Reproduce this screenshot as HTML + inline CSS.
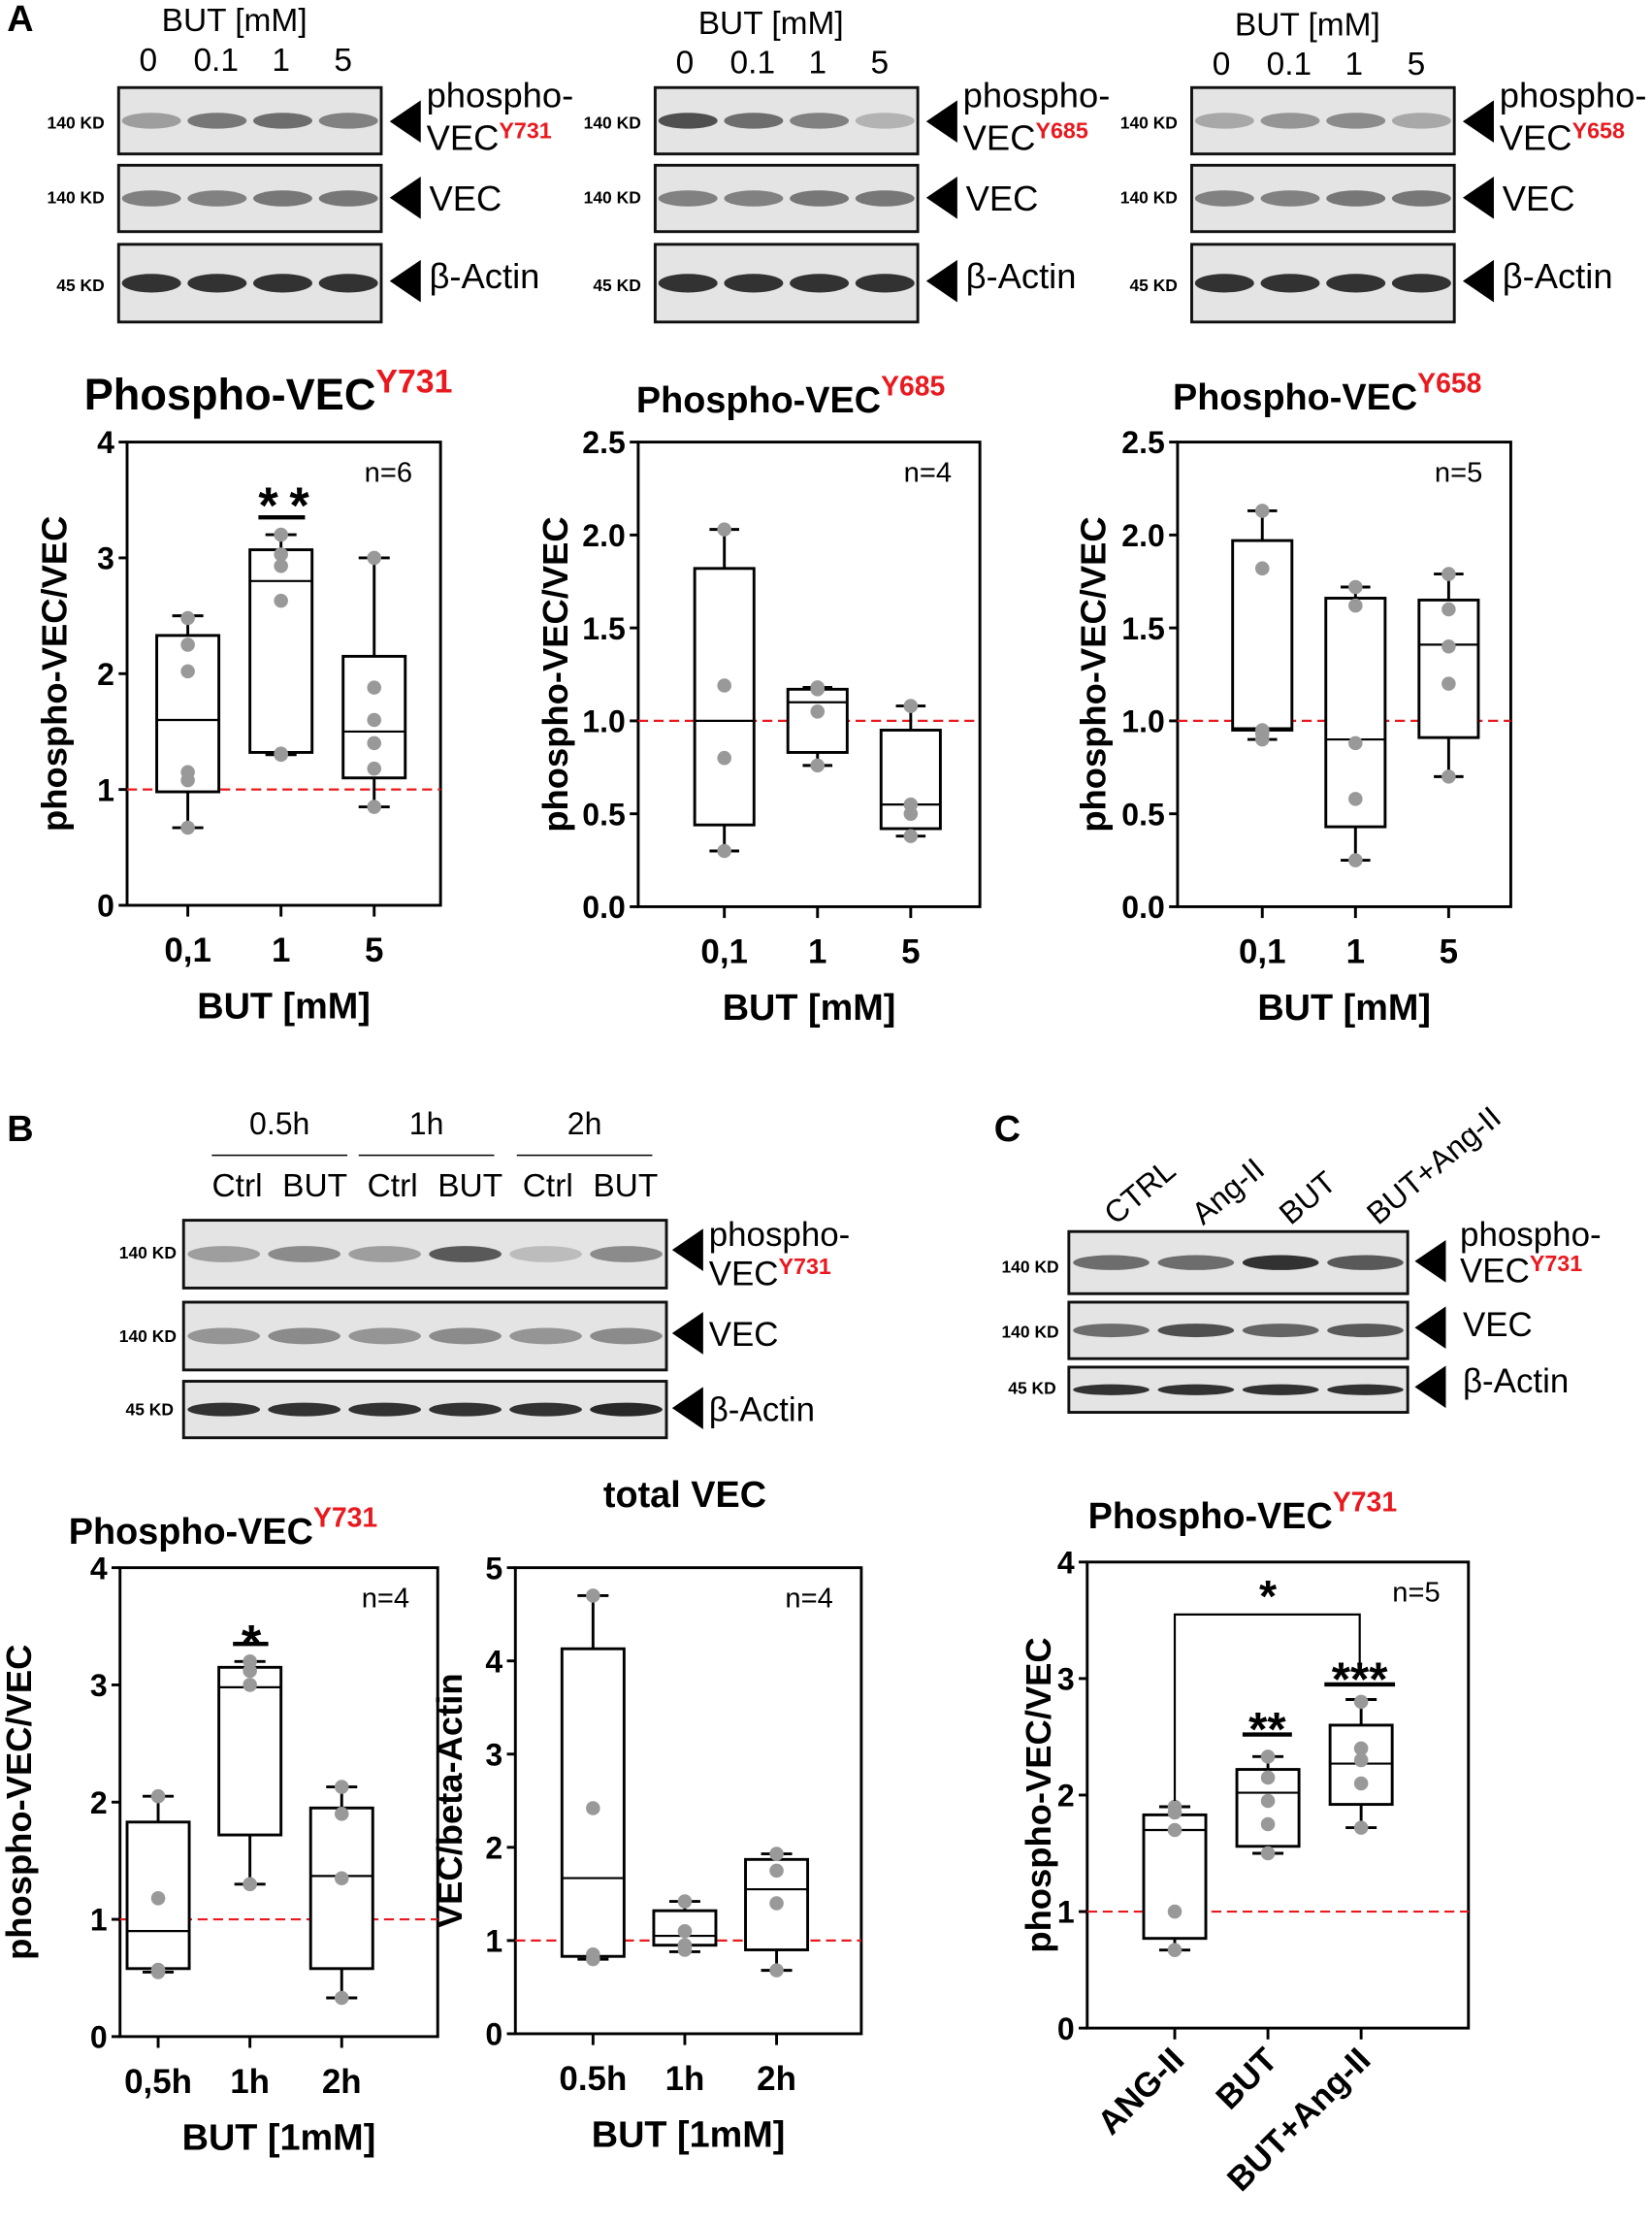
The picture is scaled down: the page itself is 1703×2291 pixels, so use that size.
<!DOCTYPE html>
<html><head><meta charset="utf-8"><style>
html,body{margin:0;padding:0;background:#fff;}
svg{display:block;font-family:"Liberation Sans",Arial,sans-serif;}
</style></head><body>
<svg id="fig" width="1703" height="2291" viewBox="0 0 1170 1574" xmlns="http://www.w3.org/2000/svg">
<g id="blots"></g>
<g id="charts"></g>
</svg>
<script>
const NS="http://www.w3.org/2000/svg";
const svg=document.getElementById('fig');
const gB=document.getElementById('blots'), gC=document.getElementById('charts');
function mk(tag,attrs,parent,text){const e=document.createElementNS(NS,tag);for(const k in attrs)e.setAttribute(k,attrs[k]);if(text!==undefined)e.textContent=text;(parent||svg).appendChild(e);return e;}

/* ---------- chart data ---------- */
const a1Cats=["0,1","1","5"];
const a1Box=[[0.67,0.98,1.6,2.33,2.5],[1.3,1.32,2.8,3.07,3.2],[0.85,1.1,1.5,2.15,3.0]];
const a1Pts=[[2.48,2.25,2.02,1.15,1.08,0.67],[3.2,3.03,2.93,2.63,1.3,1.31],[3.0,1.88,1.6,1.4,1.18,0.85]];
const a1Ticks=[0,1,2,3,4];
const a2Cats=["0,1","1","5"];
const a2Box=[[0.3,0.44,1.0,1.82,2.03],[0.76,0.83,1.1,1.17,1.18],[0.38,0.42,0.55,0.95,1.08]];
const a2Pts=[[2.03,1.19,0.8,0.3],[1.18,1.17,1.05,0.76],[1.08,0.55,0.5,0.38]];
const a2Ticks=[0,0.5,1.0,1.5,2.0,2.5];
const a3Cats=["0,1","1","5"];
const a3Box=[[0.9,0.95,0.96,1.97,2.13],[0.25,0.43,0.9,1.66,1.72],[0.7,0.91,1.41,1.65,1.79]];
const a3Pts=[[2.13,1.82,0.95,0.93,0.9],[1.72,1.62,0.88,0.58,0.25],[1.79,1.6,1.4,1.2,0.7]];
const a3Ticks=[0,0.5,1.0,1.5,2.0,2.5];
const b1Cats=["0,5h","1h","2h"];
const b1Box=[[0.55,0.58,0.9,1.83,2.05],[1.3,1.72,2.98,3.15,3.2],[0.33,0.58,1.37,1.95,2.13]];
const b1Pts=[[2.05,1.18,0.57,0.55],[3.2,3.12,3.0,1.3],[2.13,1.9,1.35,0.33]];
const b1Ticks=[0,1,2,3,4];
const b2Cats=["0.5h","1h","2h"];
const b2Box=[[0.8,0.83,1.67,4.13,4.7],[0.88,0.95,1.05,1.32,1.42],[0.68,0.9,1.55,1.87,1.93]];
const b2Pts=[[4.7,2.42,0.85,0.8],[1.42,1.1,0.95,0.9],[1.93,1.75,1.4,0.68]];
const b2Ticks=[0,1,2,3,4,5];
const cCats=["ANG-II","BUT","BUT+Ang-II"];
const cBox=[[0.67,0.77,1.7,1.83,1.9],[1.5,1.56,2.02,2.22,2.33],[1.72,1.92,2.27,2.6,2.82]];
const cPts=[[1.9,1.85,1.7,1.0,0.67],[2.33,2.15,1.95,1.75,1.5],[2.8,2.4,2.3,2.1,1.72]];
const cTicks=[0,1,2,3,4];

/* ---------- box plot drawer ---------- */
function chart(o){
  const g=mk('g',{},gC);
  
  
  const y=v=>o.y0-(v-o.ymin)/(o.ymax-o.ymin)*(o.y0-o.y1);
  const xc=i=>o.x0+o.cx0+i*o.dx;
  const fr=mk('rect',{x:o.x0,y:o.y1,width:o.x1-o.x0,height:o.y0-o.y1,fill:'none',stroke:'#000','stroke-width':2},g);
  
  o.ticks.forEach(t=>{
    mk('line',{x1:o.x0-6,x2:o.x0,y1:y(t),y2:y(t),stroke:'#000','stroke-width':2},g);
    const tl=mk('text',{x:o.x0-9,y:y(t)+8,'text-anchor':'end','font-size':22,'font-weight':'bold'},g,o.tickFmt?o.tickFmt(t):String(t));
    
  });
  mk('line',{x1:o.x0,x2:o.x1,y1:y(1),y2:y(1),stroke:'#e8191f','stroke-width':1.5,'stroke-dasharray':'7,4'},g);
  o.box.forEach((b,i)=>{
    const x=xc(i), w=o.bw;
    mk('line',{x1:x,x2:x,y1:y(b[0]),y2:y(b[4]),stroke:'#000','stroke-width':2},g);
    [b[0],b[4]].forEach(v=>mk('line',{x1:x-w/4,x2:x+w/4,y1:y(v),y2:y(v),stroke:'#000','stroke-width':2},g));
    const r=mk('rect',{x:x-w/2,y:y(b[3]),width:w,height:y(b[1])-y(b[3]),fill:'#fff',stroke:'#000','stroke-width':2},g);
    
    mk('line',{x1:x-w/2,x2:x+w/2,y1:y(b[2]),y2:y(b[2]),stroke:'#000','stroke-width':1.5},g);
    o.pts[i].forEach(p=>{
      const c=mk('circle',{cx:x,cy:y(p),r:5,fill:'#999'},g);
      
    });
    mk('line',{x1:x,x2:x,y1:o.y0,y2:o.y0+8,stroke:'#000','stroke-width':2},g);
    if(!o.rot){
      const t=mk('text',{x:x,y:o.y0+40,'text-anchor':'middle','font-size':24,'font-weight':'bold'},g,o.cats[i]);
      
    } else {
      const t=mk('text',{x:x+8,y:o.y0+24,'text-anchor':'end','font-size':24,'font-weight':'bold',transform:`rotate(-45 ${x+8} ${o.y0+24})`},g,o.cats[i]);
      
    }
  });
  const yt=mk('text',{x:0,y:0,'text-anchor':'middle','font-size':25,'font-weight':'bold',transform:`translate(${o.ylx} ${(o.y0+o.y1)/2}) rotate(-90)`},g,o.ylab);
  
  if(o.xlab){const xt=mk('text',{x:(o.x0+o.x1)/2,y:o.y0+80,'text-anchor':'middle','font-size':26,'font-weight':'bold'},g,o.xlab);
    }
  const nt=mk('text',{x:o.x1-20,y:o.y1+28,'text-anchor':'end','font-size':20},g,o.n);
  
  const tt=mk('text',{x:o.tx,y:o.ty,'text-anchor':'middle','font-size':o.tfs||26,'font-weight':'bold'},g);
  
  mk('tspan',{},tt,o.title);
  if(o.sup){mk('tspan',{dy:-12,'font-size':(o.tfs||26)*0.75,fill:'#e8191f'},tt,o.sup);}
  return {y,xc,g};
}

const A1=chart({name:'chart-a-y731',x0:90,x1:312,y0:641,y1:313,ymin:0,ymax:4,cx0:43,dx:66,bw:44,cats:a1Cats,box:a1Box,pts:a1Pts,ticks:a1Ticks,ylab:'phospho-VEC/VEC',ylx:47,xlab:'BUT [mM]',n:'n=6',title:'Phospho-VEC',sup:'Y731',tx:190,ty:290,tfs:31});
mk('line',{x1:183,x2:216,y1:A1.y(3.35),y2:A1.y(3.35),stroke:'#000','stroke-width':3},gC);
mk('text',{x:205,y:A1.y(3.35)+4,'text-anchor':'middle','font-size':36,'font-weight':'bold','letter-spacing':8},gC,'**');

const fmt1=t=>t.toFixed(1);
chart({name:'chart-a-y685',x0:452,x1:694,y0:642,y1:313,ymin:0,ymax:2.5,cx0:61,dx:66,bw:42,cats:a2Cats,box:a2Box,pts:a2Pts,ticks:a2Ticks,tickFmt:fmt1,ylab:'phospho-VEC/VEC',ylx:402,xlab:'BUT [mM]',n:'n=4',title:'Phospho-VEC',sup:'Y685',tx:560,ty:292});
chart({name:'chart-a-y658',x0:834,x1:1070,y0:642,y1:313,ymin:0,ymax:2.5,cx0:60,dx:66,bw:42,cats:a3Cats,box:a3Box,pts:a3Pts,ticks:a3Ticks,tickFmt:fmt1,ylab:'phospho-VEC/VEC',ylx:783,xlab:'BUT [mM]',n:'n=5',title:'Phospho-VEC',sup:'Y658',tx:940,ty:290});
const B1=chart({name:'chart-b-y731',x0:85,x1:310,y0:1442,y1:1110,ymin:0,ymax:4,cx0:27,dx:65,bw:44,cats:b1Cats,box:b1Box,pts:b1Pts,ticks:b1Ticks,ylab:'phospho-VEC/VEC',ylx:22,xlab:'BUT [1mM]',n:'n=4',title:'Phospho-VEC',sup:'Y731',tx:158,ty:1093});
mk('line',{x1:165,x2:190,y1:B1.y(3.35),y2:B1.y(3.35),stroke:'#000','stroke-width':3},gC);
mk('text',{x:178,y:B1.y(3.35)+12,'text-anchor':'middle','font-size':36,'font-weight':'bold'},gC,'*');
chart({name:'chart-b-total-vec',x0:365,x1:610,y0:1440,y1:1110,ymin:0,ymax:5,cx0:55,dx:65,bw:44,cats:b2Cats,box:b2Box,pts:b2Pts,ticks:b2Ticks,ylab:'VEC/beta-Actin',ylx:327,xlab:'BUT [1mM]',n:'n=4',title:'total VEC',tx:485,ty:1067});
const C=chart({name:'chart-c-y731',x0:770,x1:1040,y0:1436,y1:1106,ymin:0,ymax:4,cx0:62,dx:66,bw:44,cats:cCats,box:cBox,pts:cPts,ticks:cTicks,ylab:'phospho-VEC/VEC',ylx:744,n:'n=5',title:'Phospho-VEC',sup:'Y731',tx:880,ty:1082,rot:true});
[[880,915,2.52,'**'],[938,988,2.95,'***']].forEach(a=>{
  mk('line',{x1:a[0],x2:a[1],y1:C.y(a[2]),y2:C.y(a[2]),stroke:'#000','stroke-width':3},gC);
  mk('text',{x:(a[0]+a[1])/2,y:C.y(a[2])+8,'text-anchor':'middle','font-size':34,'font-weight':'bold'},gC,a[3]);
});
mk('path',{d:`M832 ${C.y(1.95)} V${C.y(3.55)} H963 V${C.y(3.05)}`,fill:'none',stroke:'#000','stroke-width':1.5},gC);
mk('text',{x:898,y:C.y(3.55)-2,'text-anchor':'middle','font-size':32,'font-weight':'bold'},gC,'*');

/* ---------- blots ---------- */
function blot(x,y,w,h,lanes,intens,name){
  const g=mk('g',{},gB);
  
  
  mk('rect',{x,y,width:w,height:h,fill:'#e4e4e4',stroke:'#111','stroke-width':2},g);
  const lw=w/lanes;
  intens.forEach((v,i)=>{
    mk('ellipse',{cx:x+lw*(i+0.5),cy:y+h*0.5,rx:lw*0.45,ry:h*0.12,fill:`rgba(30,30,30,${v})`},g);
  });
}
function label(x,y,txt,size,anchor,bold,name){const t=mk('text',{x,y,'font-size':size,'text-anchor':anchor||'start','font-weight':bold?'bold':'normal'},gB,txt);return t;}
function arrow(x,y){mk('path',{d:`M${x} ${y} L${x+22} ${y-15} L${x+22} ${y+15} Z`,fill:'#000'},gB);}
function sup(x,y,base,s,fs){const t=mk('text',{x,y,'font-size':fs||25},gB);mk('tspan',{},t,base);mk('tspan',{dy:-8,'font-size':16,fill:'#e8191f','font-weight':'bold'},t,s);}

label(5,22,'A',26,'start',true,'panel-label-a');
label(5,808,'B',26,'start',true,'panel-label-b');
label(704,808,'C',26,'start',true,'panel-label-c');

[[84,'Y731',[0.35,0.55,0.6,0.5],0],[464,'Y685',[0.75,0.6,0.5,0.25],4],[844,'Y658',[0.3,0.4,0.45,0.3],6]].forEach((p,k)=>{
  const x=p[0], dy=p[3];
  label(x+82,22+dy*0.5,'BUT [mM]',23,'middle',false,'blot-header');
  ['0','0.1','1','5'].forEach((s,i)=>label(x+[21,69,115,159][i],50+dy*0.5,s,23,'middle',false,'lane-label'));
  blot(x,62,186,47,4,p[2],'blot-phospho-'+k);
  blot(x,117,186,47,4,[0.5,0.5,0.55,0.55],'blot-vec-'+k);
  blot(x,173,186,55,4,[0.9,0.9,0.9,0.9],'blot-actin-'+k);
  label(x-10,91,'140 KD',12,'end',true);label(x-10,144,'140 KD',12,'end',true);label(x-10,206,'45 KD',12,'end',true);
  arrow(x+192,86);arrow(x+192,140);arrow(x+192,199);
  label(x+218,76,'phospho-',25);sup(x+218,106,'VEC',p[1]);
  label(x+220,149,'VEC',25);label(x+220,204,'β-Actin',25);
});
[['0.5h',198],['1h',302],['2h',414]].forEach(a=>{label(a[1],803,a[0],22,'middle');mk('line',{x1:a[1]-48,x2:a[1]+48,y1:818,y2:818,stroke:'#000'},gB);});
['Ctrl','BUT','Ctrl','BUT','Ctrl','BUT'].forEach((s,i)=>label(168+i*55,847,s,23,'middle',false,'lane-label'));
blot(130,864,342,48,6,[0.35,0.45,0.35,0.7,0.2,0.45],'blot-b-phospho');
blot(130,922,342,48,6,[0.4,0.45,0.4,0.45,0.4,0.45],'blot-b-vec');
blot(130,978,342,40,6,[0.9,0.9,0.9,0.9,0.9,0.95],'blot-b-actin');
label(125,891,'140 KD',12,'end',true);label(125,950,'140 KD',12,'end',true);label(123,1002,'45 KD',12,'end',true);
arrow(476,885);arrow(476,944);arrow(476,997);
label(502,882,'phospho-',24);sup(502,910,'VEC','Y731',24);label(502,953,'VEC',24);label(502,1006,'β-Actin',24);
['CTRL','Ang-II','BUT','BUT+Ang-II'].forEach((s,i)=>{const x=790+i*62,y=868;const t=label(x,y,s,22,'start');t.setAttribute('transform',`rotate(-40 ${x} ${y})`);});
blot(757,872,240,44,4,[0.6,0.6,0.9,0.7],'blot-c-phospho');
blot(757,922,240,40,4,[0.6,0.75,0.65,0.7],'blot-c-vec');
blot(757,968,240,32,4,[0.9,0.9,0.9,0.9],'blot-c-actin');
label(750,901,'140 KD',12,'end',true);label(750,947,'140 KD',12,'end',true);label(748,987,'45 KD',12,'end',true);
arrow(1002,893);arrow(1002,940);arrow(1002,982);
label(1034,882,'phospho-',24);sup(1034,908,'VEC','Y731',24);label(1036,946,'VEC',24);label(1036,986,'β-Actin',24);
</script>
</body></html>
